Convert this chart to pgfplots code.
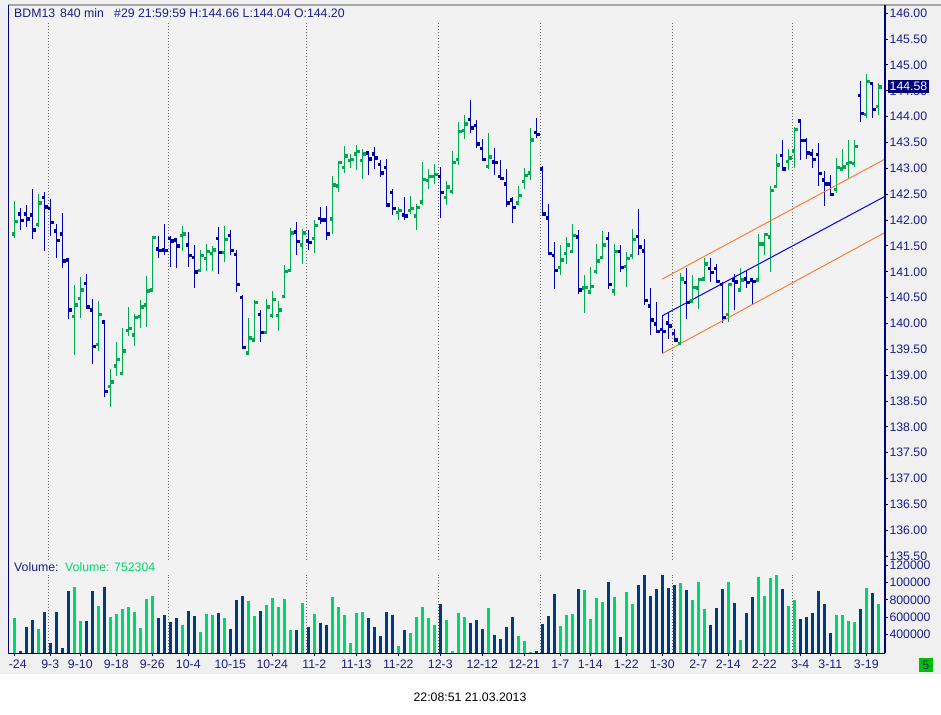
\documentclass[border=0pt]{standalone}
\usepackage{pgfplots}
\pgfplotsset{compat=1.18}
\usepackage{pgfplotstable}
\usepackage{fontspec}
\setmainfont{Liberation Sans}
\definecolor{pgreen}{RGB}{0,168,82}
\definecolor{pblue}{RGB}{0,0,168}
\definecolor{vgreen}{RGB}{0,214,110}
\definecolor{vnavy}{RGB}{0,58,128}
\definecolor{axnavy}{RGB}{0,0,120}
\definecolor{txtnavy}{RGB}{28,28,140}
\definecolor{bg}{RGB}{240,240,240}
\definecolor{plotbg}{RGB}{242,242,242}
\definecolor{chanorange}{RGB}{255,125,55}
\definecolor{chanblue}{RGB}{0,0,240}
\newcommand\cf{\fontsize{12.3bp}{14bp}\selectfont}

\pgfplotstableread{
i o h l c v d
0 141.74 142.37 141.66 141.98 596000 1
1 142.13 142.23 141.80 142.00 213000 0
2 142.13 142.29 141.87 142.03 492000 0
3 142.11 142.60 141.64 141.82 569000 0
4 141.92 142.50 141.87 142.34 466000 1
5 142.44 142.54 141.41 142.26 661000 0
6 142.23 142.40 141.70 141.96 305000 0
7 141.80 141.92 141.27 141.61 661000 0
8 141.74 142.14 141.07 141.22 247000 0
9 141.24 141.26 140.09 140.27 902000 0
10 140.14 140.75 139.40 140.37 948000 1
11 140.49 140.90 140.11 140.66 558000 1
12 140.78 140.96 140.33 140.33 558000 0
13 140.27 140.47 139.22 139.56 902000 0
14 139.60 140.44 139.46 140.18 730000 1
15 140.04 140.04 138.57 138.69 948000 0
16 138.79 139.12 138.39 138.88 604000 1
17 139.19 139.64 138.99 139.31 638000 1
18 139.04 139.91 139.00 139.48 699000 1
19 139.87 140.32 139.75 139.91 718000 1
20 139.79 140.18 139.57 140.12 661000 1
21 140.14 140.46 139.92 140.33 481000 1
22 140.37 140.92 139.94 140.64 810000 1
23 140.66 141.67 140.60 141.67 845000 1
24 141.45 141.69 141.27 141.42 592000 0
25 141.43 141.92 141.33 141.42 626000 0
26 141.65 141.69 141.09 141.60 546000 0
27 141.62 141.65 141.08 141.51 592000 0
28 141.71 141.89 141.41 141.74 512000 1
29 141.53 141.77 141.09 141.32 672000 0
30 141.28 141.52 140.69 141.00 615000 0
31 141.03 141.42 141.02 141.32 431000 1
32 141.26 141.53 141.02 141.40 638000 1
33 141.36 141.50 141.01 141.43 630000 1
34 141.65 141.87 140.96 141.38 649000 0
35 141.38 141.89 141.18 141.63 596000 1
36 141.71 141.81 141.32 141.42 466000 0
37 141.34 141.42 140.60 140.76 799000 0
38 140.51 140.55 139.52 139.54 845000 0
39 139.44 140.11 139.42 139.73 787000 1
40 139.69 140.45 139.68 140.41 615000 1
41 140.18 140.26 139.65 139.83 672000 0
42 139.83 140.47 139.81 140.33 741000 1
43 140.16 140.62 140.11 140.47 822000 1
44 140.16 140.44 139.86 140.27 718000 1
45 140.53 141.13 140.52 141.01 810000 1
46 141.03 141.85 141.00 141.76 454000 1
47 141.78 141.96 141.33 141.59 454000 0
48 141.53 141.82 141.16 141.76 764000 1
49 141.60 141.81 141.42 141.57 489000 0
50 141.65 142.00 141.37 141.90 638000 1
51 142.04 142.26 141.92 142.01 535000 0
52 142.01 142.27 141.62 141.74 512000 0
53 142.03 142.85 141.74 142.69 833000 1
54 142.67 143.15 142.55 143.12 718000 1
55 143.02 143.43 142.92 143.25 626000 1
56 143.16 143.27 143.01 143.18 305000 1
57 143.29 143.45 142.96 143.33 649000 1
58 143.16 143.37 142.80 143.29 661000 1
59 143.31 143.34 142.88 143.19 592000 0
60 143.29 143.41 142.98 143.21 489000 0
61 143.08 143.16 142.84 142.92 385000 0
62 143.02 143.18 142.28 142.30 661000 0
63 142.54 142.60 142.10 142.23 626000 0
64 142.15 142.26 142.01 142.19 270000 1
65 142.11 142.45 142.00 142.09 454000 0
66 142.19 142.47 142.12 142.23 420000 1
67 142.09 142.32 141.81 142.25 604000 1
68 142.36 143.13 142.30 142.79 718000 1
69 142.77 142.99 142.61 142.85 592000 1
70 142.85 143.08 142.70 142.89 512000 1
71 142.85 143.03 142.05 142.54 753000 0
72 142.44 142.76 142.29 142.65 569000 1
73 142.56 143.34 142.51 143.12 213000 1
74 143.18 143.90 143.07 143.72 649000 1
75 143.74 144.03 143.57 143.87 604000 1
76 143.95 144.32 143.69 143.79 535000 0
77 143.84 143.94 143.40 143.48 569000 0
78 143.39 143.57 143.15 143.18 466000 0
79 143.04 143.69 142.99 143.23 707000 1
80 143.13 143.39 142.87 143.12 397000 0
81 142.85 143.16 142.78 142.81 351000 0
82 142.71 142.99 142.26 142.34 489000 0
83 142.40 142.45 141.95 142.25 604000 0
84 142.34 142.65 142.32 142.48 385000 1
85 142.75 143.00 142.60 142.87 328000 1
86 142.92 143.79 142.78 143.56 201000 1
87 143.70 143.97 143.58 143.66 213000 0
88 143.00 143.05 142.10 142.13 523000 0
89 142.05 142.31 141.36 141.36 615000 0
90 141.32 141.57 140.67 141.03 868000 0
91 141.09 141.51 140.94 141.24 500000 1
92 141.36 141.67 141.16 141.53 626000 1
93 141.40 141.92 141.36 141.71 638000 1
94 141.68 141.81 140.58 140.66 925000 0
95 140.69 140.94 140.21 140.70 914000 1
96 140.62 141.09 140.60 140.72 581000 1
97 141.01 141.54 140.95 141.22 822000 1
98 141.28 141.79 141.26 141.53 776000 1
99 141.65 141.77 140.67 140.76 1006000 0
100 140.64 141.54 140.54 141.40 833000 1
101 141.40 141.51 141.00 141.09 374000 0
102 141.11 141.38 140.70 141.26 891000 1
103 141.32 141.83 141.25 141.63 753000 1
104 141.69 142.21 141.33 141.49 971000 0
105 141.41 141.64 140.36 140.45 1086000 0
106 140.35 140.69 139.77 140.08 845000 0
107 140.00 140.42 139.82 139.85 925000 0
108 139.89 140.15 139.42 139.85 1086000 0
109 140.02 140.22 139.70 139.96 937000 0
110 139.81 139.89 139.65 139.69 971000 0
111 139.62 140.98 139.60 140.87 994000 1
112 140.80 141.07 140.09 140.41 914000 0
113 140.44 140.94 140.39 140.70 799000 1
114 140.69 140.87 140.29 140.86 1006000 1
115 140.87 141.27 140.83 141.16 695000 1
116 141.07 141.26 140.81 140.99 512000 0
117 141.07 141.15 140.78 140.82 707000 0
118 140.76 140.81 140.00 140.12 925000 0
119 140.18 140.78 140.02 140.76 1006000 1
120 140.85 140.96 140.26 140.81 764000 0
121 140.66 141.07 140.64 140.85 339000 1
122 140.87 141.04 140.68 140.80 649000 0
123 140.85 140.87 140.38 140.82 833000 0
124 140.85 141.74 140.84 141.55 1063000 1
125 141.55 141.74 141.33 141.73 845000 1
126 141.68 142.65 141.00 142.58 1052000 1
127 142.66 143.27 142.62 143.07 1086000 1
128 143.26 143.55 142.97 143.00 925000 0
129 143.14 143.37 142.97 143.21 730000 1
130 143.34 143.81 143.01 143.76 799000 1
131 143.92 143.95 143.16 143.55 581000 0
132 143.55 143.58 143.18 143.31 604000 0
133 143.29 143.37 143.01 143.18 649000 0
134 143.28 143.49 142.66 142.91 902000 0
135 142.78 142.95 142.28 142.71 753000 0
136 142.71 142.87 142.49 142.50 420000 0
137 142.60 143.21 142.53 143.02 626000 1
138 143.00 143.37 142.97 143.03 626000 1
139 143.10 143.55 142.81 143.12 558000 1
140 143.10 143.55 143.03 143.43 546000 1
141 144.42 144.69 143.89 144.07 695000 0
142 144.05 144.83 143.97 144.69 937000 1
143 144.65 144.68 143.97 144.15 879000 0
144 144.20 144.66 144.04 144.58 752304 1
}\bars

\pgfplotsset{
  hl/.style 2 args={draw=none, mark=none, forget plot,
    restrict expr to domain={\thisrow{d}}{#2},
    error bars/.cd, y dir=plus, y explicit,
    error mark=none, error bar style={solid, draw=#1, line width=1.3bp}},
  tk/.style 2 args={only marks, mark=square*, mark size=1.25bp, color=#1,
    mark options={line width=0.2bp},
    restrict expr to domain={\thisrow{d}}{#2}},
}

\begin{document}
\begin{tikzpicture}
\useasboundingbox (0bp,0bp) rectangle (941bp,715bp);
\fill[white] (0bp,0bp) rectangle (941bp,715bp);
\fill[bg] (0bp,41bp) rectangle (941bp,715bp);
\fill[plotbg] (8bp,61.7bp) rectangle (885bp,710bp);

% ---------------- price panel ----------------
\begin{axis}[
  at={(8bp,155bp)}, anchor=south west, scale only axis,
  width=877bp, height=555bp,
  xmin=-1.05, xmax=145.12, ymin=135.426, ymax=146.16,
  axis line style={draw=none},
  xtick=\empty,
  ytick={135.5,136,...,146},
  ytick pos=right, tick align=outside, major tick length=3bp,
  tick style={axnavy, line width=1bp},
  yticklabel style={font=\cf, text=txtnavy, anchor=west, xshift=-2bp,
    /pgf/number format/.cd, fixed, fixed zerofill, precision=2, assume math mode=true},
]
\pgfplotsinvokeforeach{5.7,25.7,48.7,70.7,87.7,109.7,129.7}{
  \draw[gray!80!black, dotted, line width=1bp] (axis cs:#1,135.426) -- (axis cs:#1,145.83);
}
% green (up) bars
\addplot[hl={pgreen}{0.5:1.5}] table[x=i, y=l, y error expr=\thisrow{h}-\thisrow{l}] {\bars};
\addplot[tk={pgreen}{0.5:1.5}] table[x expr=\thisrow{i}-0.2, y=o] {\bars};
\addplot[tk={pgreen}{0.5:1.5}] table[x expr=\thisrow{i}+0.2, y=c] {\bars};
% blue (down) bars
\addplot[hl={pblue}{-0.5:0.5}] table[x=i, y=l, y error expr=\thisrow{h}-\thisrow{l}] {\bars};
\addplot[tk={pblue}{-0.5:0.5}] table[x expr=\thisrow{i}-0.2, y=o] {\bars};
\addplot[tk={pblue}{-0.5:0.5}] table[x expr=\thisrow{i}+0.2, y=c] {\bars};
% regression channel
\addplot[chanorange, line width=1bp] coordinates {(108,140.86) (145.12,143.18)};
\addplot[chanblue, line width=1bp] coordinates {(108,140.15) (145.12,142.46)};
\addplot[chanorange, line width=1bp] coordinates {(108,139.42) (145.12,141.76)};
\end{axis}

% cover lower half of the 135.50 label (volume panel area)
\fill[bg] (886bp,61.7bp) rectangle (941bp,155bp);

% ---------------- volume panel ----------------
\begin{axis}[
  at={(8bp,61.7bp)}, anchor=south west, scale only axis,
  width=877bp, height=93.3bp,
  xmin=-1.05, xmax=145.12, ymin=186000, ymax=1258000,
  axis line style={draw=none},
  scaled y ticks=false,
  xtick={0,6,11,17,23,29,36,43,50,57,64,71,78,85,91,96,102,108,114,119,125,131,136,142},
  xticklabels={\phantom{8}-24,9-3,9-10,9-18,9-26,10-4,10-15,10-24,11-2,11-13,11-22,12-3,12-12,12-21,1-7,1-14,1-22,1-30,2-7,2-14,2-22,3-4,3-11,3-19},
  xtick pos=bottom,
  ytick={400000,600000,800000,1000000,1200000},
  yticklabels={400000,600000,800000,1000000,1200000},
  ytick pos=right, tick align=outside, major tick length=3bp,
  tick style={axnavy, line width=1bp},
  yticklabel style={font=\cf, text=txtnavy, anchor=west, xshift=-2bp},
  xticklabel style={font=\cf, text=txtnavy},
]
\pgfplotsinvokeforeach{5.7,25.7,48.7,70.7,87.7,109.7,129.7}{
  \draw[gray!80!black, dotted, line width=1bp] (axis cs:#1,186000) -- (axis cs:#1,1086000);
}
\addplot[ycomb, vgreen, line width=3bp, restrict expr to domain={\thisrow{d}}{0.5:1.5}] table[x=i, y=v] {\bars};
\addplot[ycomb, vnavy, line width=3bp, restrict expr to domain={\thisrow{d}}{-0.5:0.5}] table[x=i, y=v] {\bars};
\end{axis}

% clip the too-long volume labels
\fill[bg] (931bp,62bp) rectangle (941bp,155bp);

% frame lines
\draw[gray!70, line width=1.5bp] (8bp,710bp) -- (941bp,710bp);
\draw[axnavy, line width=1bp] (8.5bp,61.7bp) -- (8.5bp,710bp);
\draw[axnavy, line width=1.3bp] (885bp,61.7bp) -- (885bp,710bp);
\draw[axnavy, line width=1.3bp] (8bp,61.7bp) -- (885bp,61.7bp);

% header
\node[anchor=base west, inner sep=0pt, text=txtnavy, font=\cf] at (14bp,697.5bp) {BDM13};
\node[anchor=base west, inner sep=0pt, text=txtnavy, font=\cf] at (60bp,697.5bp) {840 min};
\node[anchor=base west, inner sep=0pt, text=txtnavy, font=\cf] at (114bp,697.5bp) {\#29 21:59:59 H:144.66 L:144.04 O:144.20};

% last price box
\node[fill=axnavy, text=white, font=\cf, inner xsep=2bp, inner ysep=2bp, anchor=west] at (887.5bp,628.3bp) {144.58};

% volume caption
\node[anchor=base west, inner sep=0pt, text=txtnavy, font=\cf] at (14bp,143bp) {Volume:};
\node[anchor=base west, inner sep=0pt, text=vgreen, font=\cf] at (65bp,143bp) {Volume: 752304};

% green box
\fill[green!75!black] (919bp,43.3bp) rectangle (932.7bp,57bp);
\node[text=txtnavy, font=\cf, inner sep=0pt] at (925.9bp,50.1bp) {5};

% bottom line and timestamp
\draw[white!85!gray, line width=1bp] (0bp,41.5bp) -- (941bp,41.5bp);
\node[text=black, font=\cf] at (470bp,18bp) {22:08:51 21.03.2013};
\end{tikzpicture}
\end{document}
